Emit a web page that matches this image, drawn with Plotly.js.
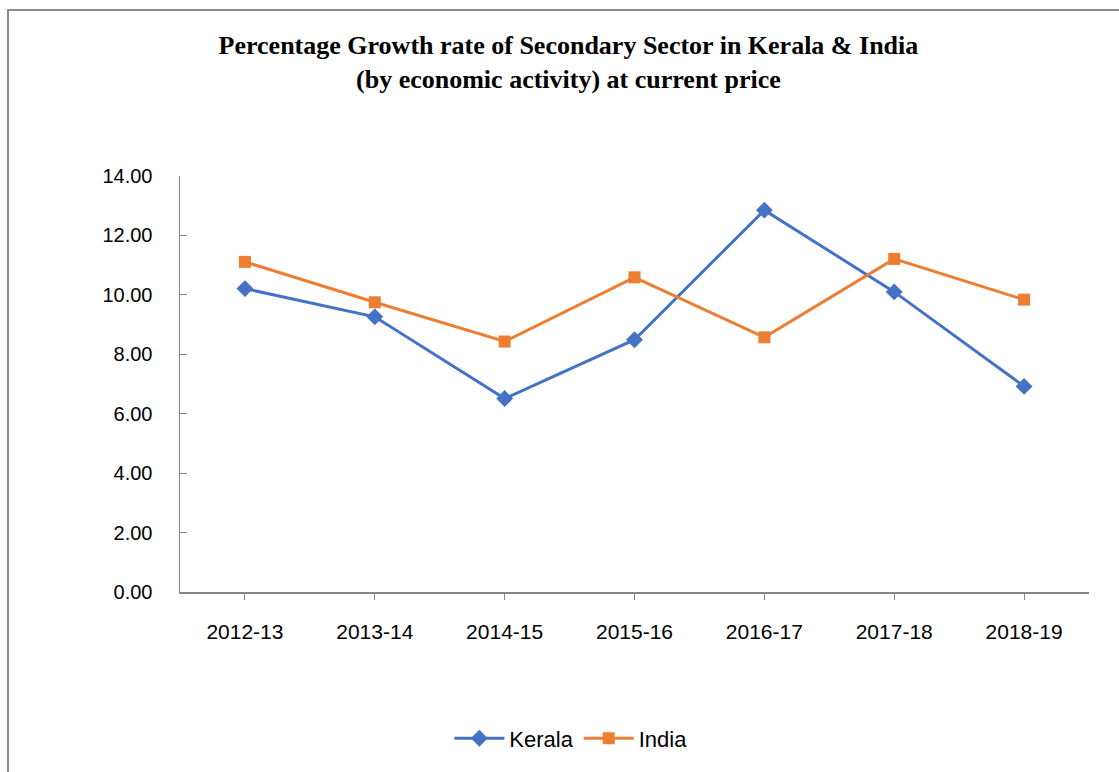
<!DOCTYPE html>
<html>
<head>
<meta charset="utf-8">
<script src="https://cdn.plot.ly/plotly-3.0.1.min.js"></script>
<style>
html,body{margin:0;padding:0;background:#fff;}
#wrap{position:relative;width:1119px;height:772px;overflow:hidden;}
#chart{position:absolute;left:0;top:0;width:1119px;height:772px;}
#frame{position:absolute;left:7px;top:9px;width:1200px;height:900px;border-top:2px solid #8a8a8a;border-left:2px solid #8a8a8a;pointer-events:none;}
</style>
</head>
<body>
<div id="wrap"><div id="chart"></div><div id="frame"></div></div>
<script>
const years = ['2012-13','2013-14','2014-15','2015-16','2016-17','2017-18','2018-19'];
const kerala = [10.21, 9.26, 6.51, 8.49, 12.85, 10.10, 6.92];
const india = [11.11, 9.75, 8.43, 10.59, 8.57, 11.21, 9.84];
const yTicks = [0, 2, 4, 6, 8, 10, 12, 14];

const traces = [
  {x: years, y: kerala, name: 'Kerala', type: 'scatter', mode: 'lines+markers',
   line: {color: '#4472C4', width: 3}, marker: {symbol: 'diamond', size: 13, color: '#4472C4'}},
  {x: years, y: india, name: 'India', type: 'scatter', mode: 'lines+markers',
   line: {color: '#ED7D31', width: 3}, marker: {symbol: 'square', size: 12, color: '#ED7D31'}}
];

const layout = {
  width: 1119, height: 772,
  margin: {l: 180, r: 30, t: 176, b: 178},
  paper_bgcolor: 'rgba(0,0,0,0)', plot_bgcolor: 'rgba(0,0,0,0)',
  title: {text: '<b>Percentage Growth rate of Secondary Sector in Kerala & India<br>(by economic activity) at current price</b>',
          font: {family: 'Liberation Serif, Times New Roman, serif', size: 26, color: '#000'},
          x: 0.508, xanchor: 'center', y: 0.93, yanchor: 'top'},
  xaxis: {type: 'category', range: [-0.5, 6.5], showline: true, linecolor: '#868686', linewidth: 2,
          ticks: 'outside', ticklen: 6, tickcolor: '#868686', tickwidth: 1, automargin: false,
          showgrid: false, zeroline: false, fixedrange: true, ticklabelstandoff: 14,
          tickfont: {family: 'Liberation Sans, Arial, sans-serif', size: 21, color: '#000'}},
  yaxis: {range: [0, 14], tickvals: yTicks, tickformat: '.2f', showline: true, linecolor: '#868686', linewidth: 1.5,
          ticks: 'inside', ticklen: 7, tickcolor: '#868686', tickwidth: 1, automargin: false,
          showgrid: false, zeroline: false, fixedrange: true, ticklabelstandoff: 22,
          tickfont: {family: 'Liberation Sans, Arial, sans-serif', size: 20, color: '#000'}},
  showlegend: true,
  legend: {orientation: 'h', x: 0.43, xanchor: 'center', y: -0.352, yanchor: 'middle',
           font: {family: 'Liberation Sans, Arial, sans-serif', size: 22, color: '#000'},
           itemwidth: 50, tracegroupgap: 0}
};

Plotly.newPlot('chart', traces, layout, {displayModeBar: false, staticPlot: true});
</script>
</body>
</html>
